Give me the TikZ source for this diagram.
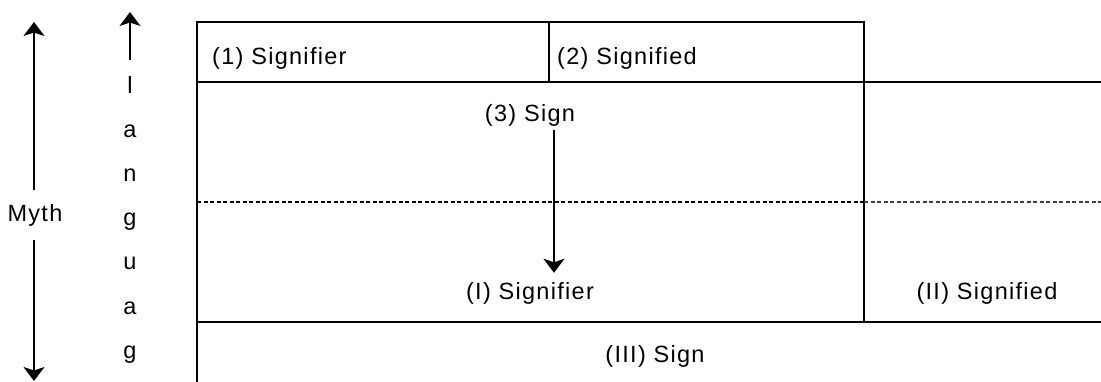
\documentclass[tikz,border=0pt]{standalone}
\usepackage{fontspec}
\setmainfont{Liberation Sans}[LetterSpace=5.5]
\usetikzlibrary{arrows.meta}
\begin{document}
\begin{tikzpicture}[x=1pt,y=-1pt,
  lbl/.style={inner sep=0pt, font=\fontsize{23.5}{28}\selectfont},
  rule/.style={line width=2pt},
  arr/.style={line width=1.8pt, -{Stealth[length=14pt,width=21pt,inset=3.5pt]}},
]
\useasboundingbox (0,0) rectangle (1101,382);
% table rules
\draw[rule] (197,382) -- (197,22) -- (864,22) -- (864,322);
\draw[rule] (549,22) -- (549,82);
\draw[rule] (197,82) -- (1101,82);
\draw[rule] (197,322) -- (1101,322);
\draw[line width=2pt, dash pattern=on 4pt off 2.5pt] (197,202) -- (864,202);
\draw[line width=1.6pt, black!75, dash pattern=on 4pt off 2.5pt] (864,202) -- (1101,202);
% cell texts
\node[lbl, anchor=base west] (t1) at (212,65) {(1) Signifier};
\node[lbl, anchor=base west] (t2) at (557,65) {(2) Signified};
\node[lbl, anchor=base] (t3) at (530,122) {(3) Sign};
\node[lbl, anchor=base] (tI) at (530,300) {(I) Signifier};
\node[lbl, anchor=base] (tII) at (987,300) {(II) Signified};
\node[lbl, anchor=base] (tIII) at (655,362) {(III) Sign};
% arrow (3) -> (I)
\coordinate (ax) at (554,0);
\draw[arr] ([yshift=-3pt]t3.south -| ax) -- ([yshift=10pt]tI.north -| ax);
% Myth
\node[lbl, anchor=base] (myth) at (35,222) {Myth};
\coordinate (mtop) at (34,22);
\coordinate (mbot) at (34,381);
\draw[arr] ([yshift=15pt]myth.north -| mtop) -- (mtop);
\draw[arr] ([yshift=-13pt]myth.south -| mbot) -- (mbot);
% language letters
\node[lbl, anchor=base] (L1) at (130,94) {l};
\node[lbl, anchor=base] (L2) at (130,138) {a};
\node[lbl, anchor=base] (L3) at (130,182) {n};
\node[lbl, anchor=base] (L4) at (130,226) {g};
\node[lbl, anchor=base] (L5) at (130,270) {u};
\node[lbl, anchor=base] (L6) at (130,314) {a};
\node[lbl, anchor=base] (L7) at (130,358) {g};
\coordinate (ltop) at (130,12);
\draw[arr] ([yshift=17pt]L1.north -| ltop) -- (ltop);
\end{tikzpicture}
\end{document}
